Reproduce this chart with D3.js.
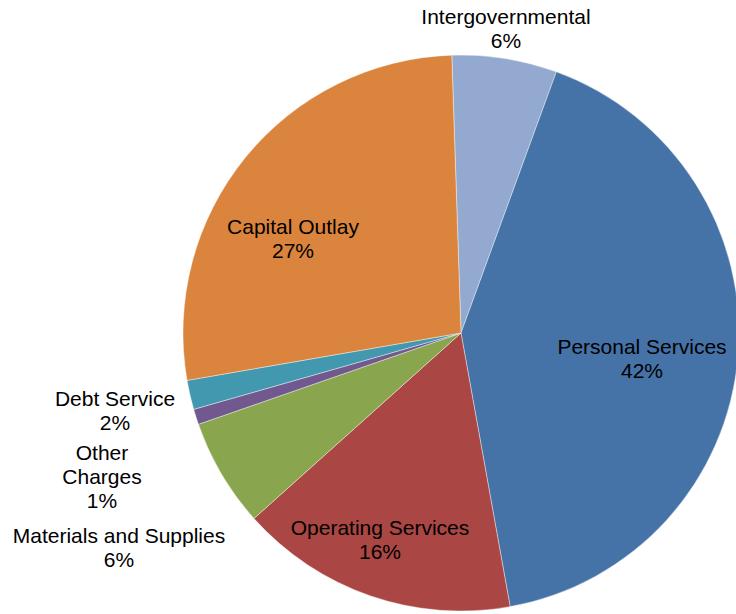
<!DOCTYPE html>
<html>
<head>
<meta charset="utf-8">
<script src="https://cdn.jsdelivr.net/npm/d3@7"></script>
<style>
  body { margin: 0; background: #fff; }
  svg { display: block; }
  .slice-label { font-family: "Liberation Sans", Arial, sans-serif; font-size: 21px; fill: #000; }
</style>
</head>
<body>
<div id="pie-chart"></div>
<script>
// slice values, clockwise from the top
var categories = ["Intergovernmental", "Personal Services", "Operating Services",
    "Materials and Supplies", "Other Charges", "Debt Service", "Capital Outlay"];
var shares = [6.1, 41.6, 16.2, 6.3, 0.9, 1.7, 27.2];

// colours (Office 2007 chart palette)
var colors = ["#93a9cf", "#4572a7", "#aa4643", "#89a54e", "#71588f", "#4198af", "#db843d"];

// label text lines (percent line is added from the data)
var labelLines = {
    "Intergovernmental": ["Intergovernmental"],
    "Personal Services": ["Personal Services"],
    "Operating Services": ["Operating Services"],
    "Materials and Supplies": ["Materials and Supplies"],
    "Other Charges": ["Other", "Charges"],
    "Debt Service": ["Debt Service"],
    "Capital Outlay": ["Capital Outlay"]
};

// where each label block sits (centre x, first baseline)
var labelPos = {
    "Intergovernmental": [506, 24],
    "Personal Services": [642, 354],
    "Operating Services": [380, 535],
    "Materials and Supplies": [119, 543],
    "Other Charges": [102, 460],
    "Debt Service": [115, 406],
    "Capital Outlay": [293, 234]
};

var width = 736, height = 614,
    cx = 461, cy = 333, radius = 278,
    lineHeight = 24;

var data = categories.map(function(c, i) { return {name: c, value: shares[i]}; });

var color = d3.scaleOrdinal().domain(categories).range(colors);

var startAngle = -1.9 * Math.PI / 180;

var pie = d3.pie()
    .sort(null)
    .value(function(d) { return d.value; })
    .startAngle(startAngle)
    .endAngle(startAngle + 2 * Math.PI);

var arc = d3.arc().innerRadius(0).outerRadius(radius);

var svg = d3.select("#pie-chart").append("svg")
    .attr("width", width)
    .attr("height", height);

var g = svg.append("g")
    .attr("transform", "translate(" + cx + "," + cy + ")");

g.selectAll("path")
    .data(pie(data))
    .enter().append("path")
    .attr("d", arc)
    .attr("fill", function(d) { return color(d.data.name); })
    .attr("stroke", "#ffffff")
    .attr("stroke-opacity", 0.5)
    .attr("stroke-width", 0.8);

// labels
var labels = svg.selectAll(".slice-label")
    .data(data)
    .enter().append("text")
    .attr("class", "slice-label")
    .attr("text-anchor", "middle")
    .attr("x", function(d) { return labelPos[d.name][0]; })
    .attr("y", function(d) { return labelPos[d.name][1]; });

labels.each(function(d) {
    var t = d3.select(this),
        lines = labelLines[d.name].concat([Math.round(d.value) + "%"]);
    lines.forEach(function(l, i) {
        t.append("tspan")
            .attr("x", labelPos[d.name][0])
            .attr("dy", i === 0 ? 0 : lineHeight)
            .text(l);
    });
});
</script>
</body>
</html>
